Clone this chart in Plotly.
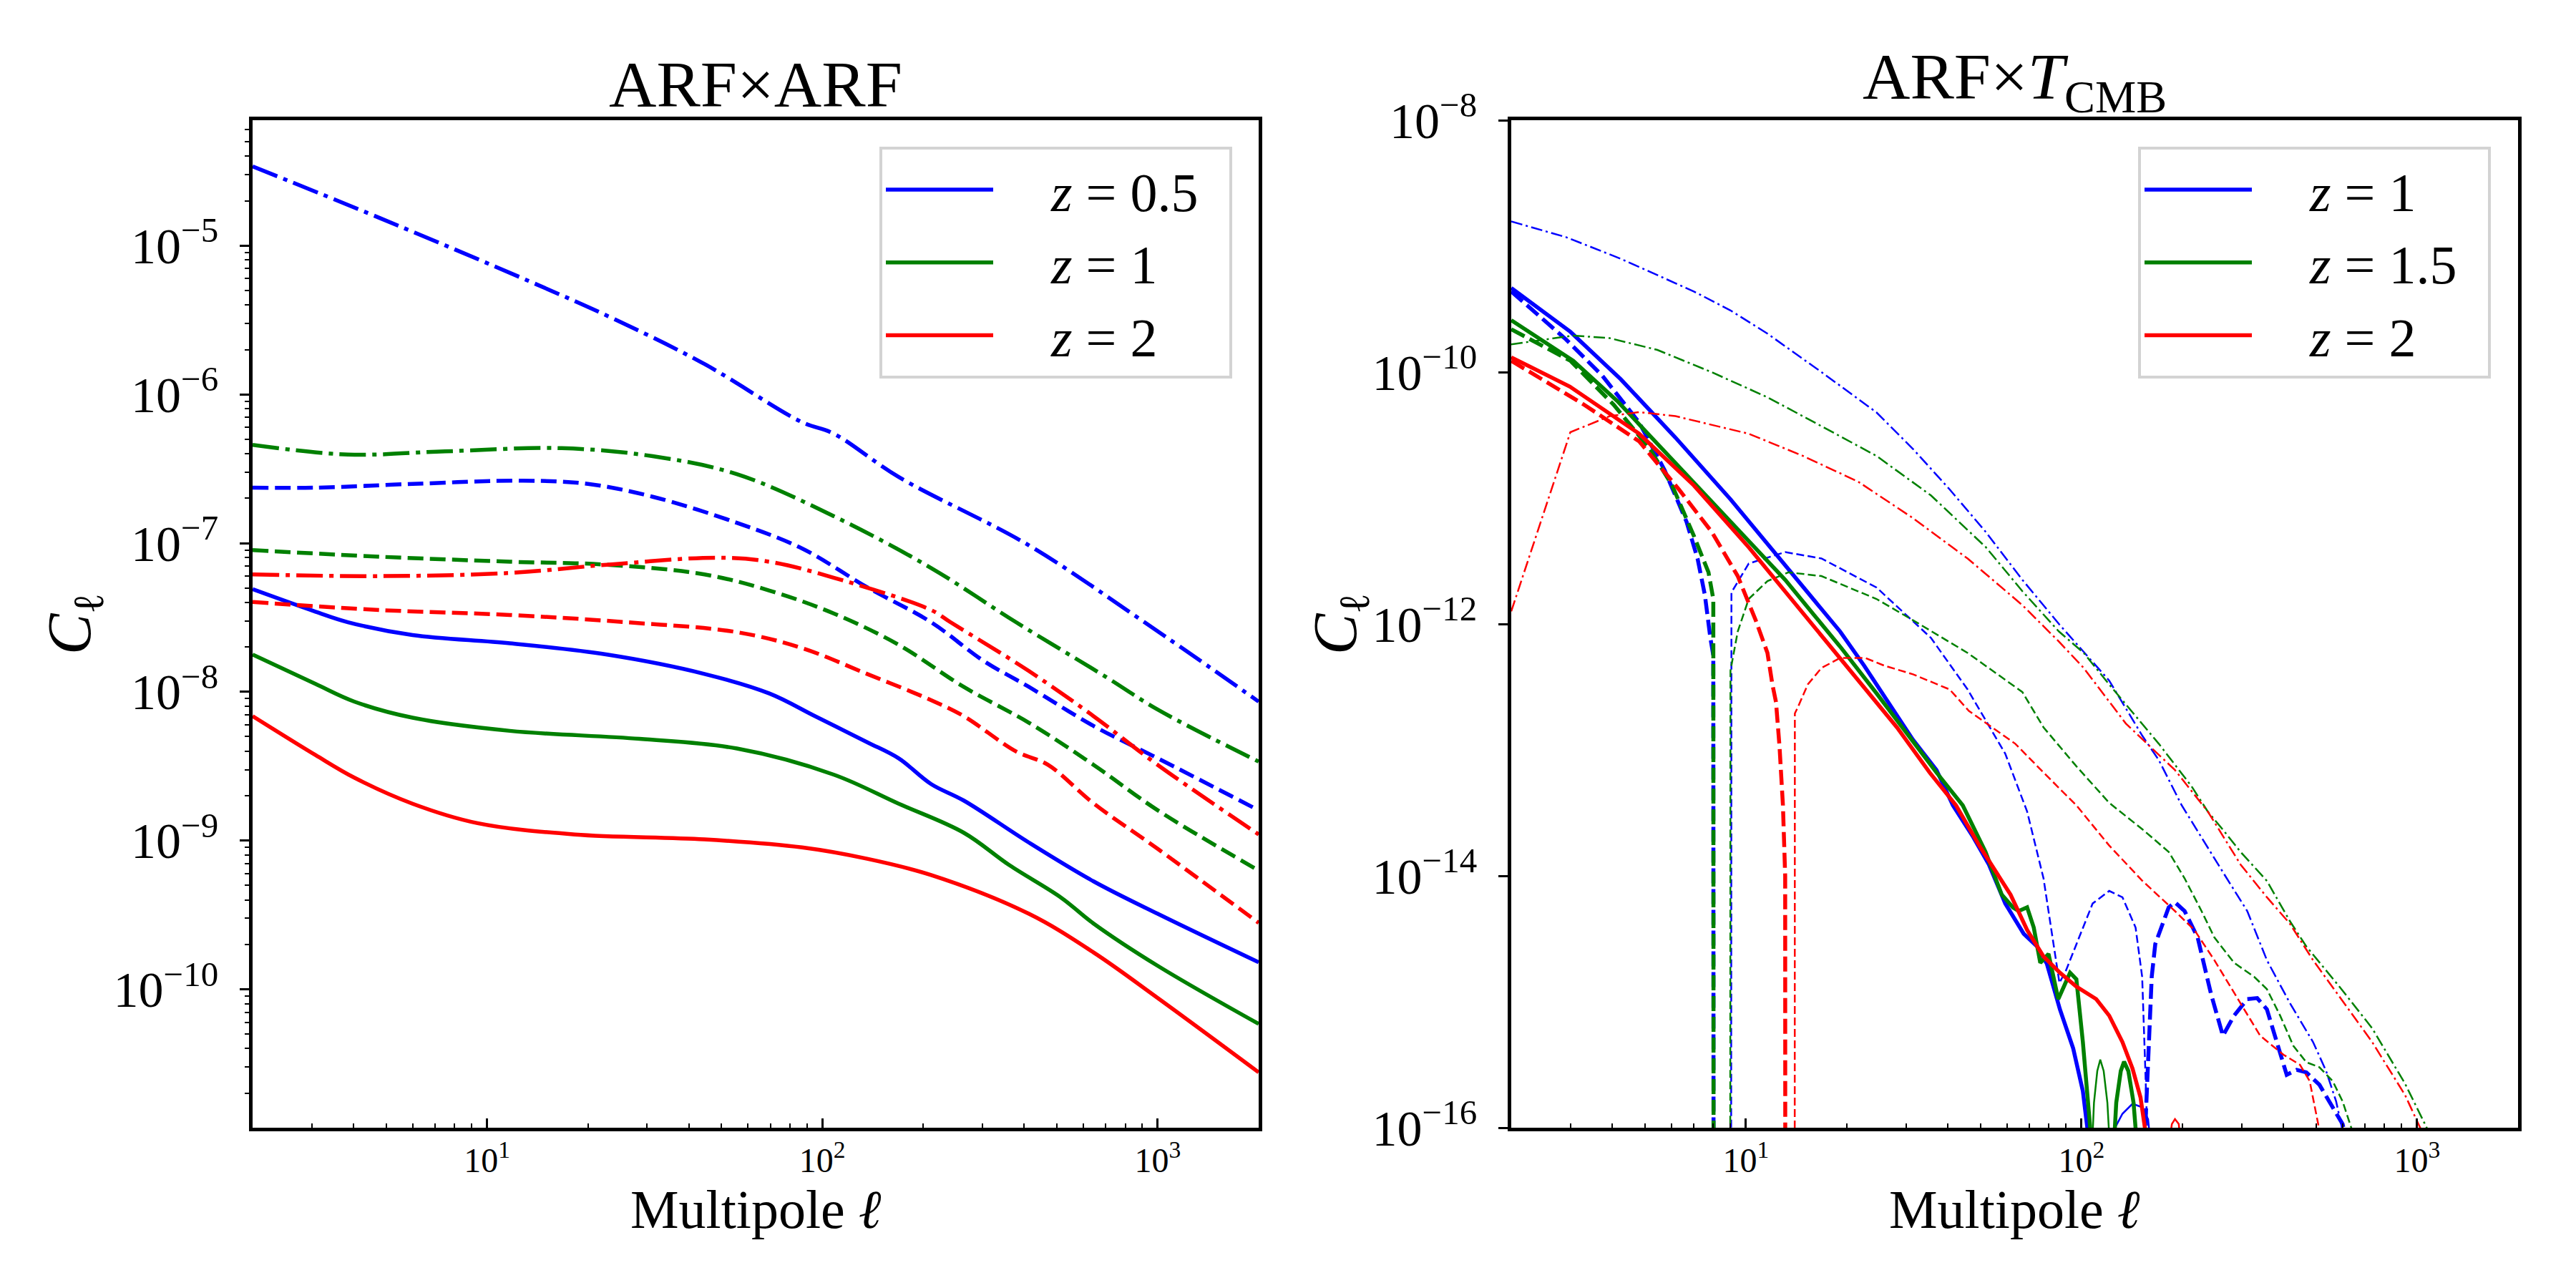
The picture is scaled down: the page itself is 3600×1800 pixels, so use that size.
import numpy as np
import plotly.graph_objects as go

FONT = "Liberation Serif"
BLUE, GREEN, RED = "#0000ff", "#008000", "#ff0000"

# ---------------- left panel: ARF x ARF ----------------
# z = 0.5
l_z05_solid = [2, 3.08, 3.85, 6.0, 11.7, 22.8, 44.5, 69.5, 95, 136, 169, 211, 264, 413, 644, 1000, 2000]
c_z05_solid = [4.9e-8, 3.46e-8, 2.94e-8, 2.41e-8, 2.12e-8, 1.78e-8, 1.32e-8, 9.75e-9, 6.87e-9, 4.59e-9,
               3.57e-9, 2.4e-9, 1.86e-9, 9.7e-10, 5.32e-10, 3.22e-10, 1.52e-10]
l_z05_dash = [2, 3.08, 6.0, 12.8, 20, 31.2, 55.6, 87, 136, 211, 302, 413, 644, 1000, 2000]
c_z05_dash = [2.36e-7, 2.36e-7, 2.5e-7, 2.63e-7, 2.5e-7, 2.05e-7, 1.37e-7, 9.2e-8, 5.05e-8, 2.94e-8,
              1.62e-8, 1.08e-8, 5.9e-9, 3.58e-9, 1.6e-9]
l_z05_dashdot = [2, 4.8, 13.4, 23.8, 44.5, 87, 108, 169, 413, 913, 2000]
c_z05_dashdot = [3.41e-5, 1.53e-5, 5.75e-6, 3.23e-6, 1.6e-6, 6.5e-7, 5.45e-7, 2.78e-7, 9.66e-8, 2.94e-8, 8.6e-9]

# z = 1
l_z1_solid = [2, 3.08, 4.02, 6.0, 11.7, 28.5, 55.6, 108, 169, 264, 361, 515, 644, 1000, 2000]
c_z1_solid = [1.78e-8, 1.13e-8, 8.6e-9, 6.7e-9, 5.47e-9, 4.83e-9, 4.16e-9, 2.78e-9, 1.77e-9, 1.13e-9,
              6.84e-10, 4.14e-10, 2.77e-10, 1.44e-10, 5.86e-11]
l_z1_dash = [2, 4.8, 11.7, 22.8, 44.5, 69.5, 108, 169, 264, 413, 644, 1000, 2000]
c_z1_dash = [8.97e-8, 8.1e-8, 7.5e-8, 7.16e-8, 6.16e-8, 4.8e-8, 3.37e-8, 2.07e-8, 1.08e-8, 6.2e-9,
             3.23e-9, 1.6e-9, 6.3e-10]
l_z1_dashdot = [2, 3.85, 7.5, 16.7, 31.2, 55.6, 108, 211, 378, 705, 1000, 2000]
c_z1_dashdot = [4.57e-7, 3.94e-7, 4.14e-7, 4.35e-7, 3.84e-7, 2.91e-7, 1.52e-7, 6.8e-8, 2.94e-8,
                1.25e-8, 7.6e-9, 3.4e-9]

# z = 2
l_z2_solid = [2, 3.08, 4.02, 6.0, 9.37, 18.3, 44.5, 87, 136, 211, 413, 644, 1000, 2000]
c_z2_solid = [6.87e-9, 3.76e-9, 2.65e-9, 1.77e-9, 1.31e-9, 1.1e-9, 1.02e-9, 9.0e-10, 7.55e-10, 5.87e-10,
              3.22e-10, 1.77e-10, 8.75e-11, 2.77e-11]
l_z2_dash = [2, 4.8, 11.7, 26, 55.6, 87, 136, 211, 264, 378, 471, 644, 1000, 2000]
c_z2_dash = [4.02e-8, 3.55e-8, 3.29e-8, 2.94e-8, 2.52e-8, 1.97e-8, 1.32e-8, 8.8e-9, 6.87e-9, 3.98e-9,
             3.23e-9, 1.78e-9, 8.8e-10, 2.8e-10]
l_z2_dashdot = [2, 4.8, 11.7, 22.8, 48.7, 69.5, 108, 211, 241, 413, 644, 1000, 2000]
c_z2_dashdot = [6.16e-8, 6.0e-8, 6.3e-8, 7.16e-8, 7.98e-8, 7.5e-8, 5.86e-8, 3.55e-8, 2.94e-8, 1.38e-8,
                6.86e-9, 3.23e-9, 1.1e-9]

# ---------------- right panel: ARF x T_CMB ----------------
# None marks non-positive values (matplotlib clips them, hence the vertical drops)
# z = 1
t_z1_solid_l = [2, 3, 4.24, 6.17, 9.0, 13.1, 19.1, 22.5, 31.5, 37, 41.4, 47.3, 53, 59.3,
                64.6, 67.3, 73.8, 78.9, 86.3, 94.5, 101, 105, 110]
t_z1_solid_c = [4.65e-10, 2.09e-10, 8.77e-11, 3.02e-11, 9.77e-12, 2.95e-12, 8.71e-13, 4.68e-13, 1.2e-13,
                6.92e-14, 3.63e-14, 2.09e-14, 1.23e-14, 6.03e-15, 4.17e-15,
                3.47e-15, 2.75e-15, 2.0e-15, 8.7e-16, 4.27e-16, 1.95e-16, 7.9e-17, 3e-17]
t_z1_arc_l = [122, 126, 132.5, 142, 152, 158, 163]
t_z1_arc_c = [5e-17, 1.0e-16, 1.29e-16, 1.55e-16, 1.45e-16, 1.17e-16, 5e-17]
t_z1_dash_l = [2, 2.91, 3.74, 4.81, 5.73, 6.66, 7.18, 7.55, 7.84, 8, 9, 150, 155, 156.5, 159, 162, 166,
               182, 190, 203, 222, 243, 264, 285, 312, 334, 357, 382, 409, 438, 468, 512, 561, 600, 640]
t_z1_dash_c = [4.37e-10, 1.82e-10, 9.33e-11, 3.98e-11, 1.66e-11, 6.46e-12, 3.31e-12, 1.7e-12, 7.76e-13,
               5.62e-13, None, None, 1.0e-16, 2.0e-16, 6.46e-16, 1.58e-15, 2.88e-15, 5.62e-15, 6.17e-15,
               5.25e-15, 3.24e-15, 1.17e-15, 5.37e-16, 7.76e-16, 1.05e-15, 1.07e-15, 8.71e-16, 4.79e-16,
               2.63e-16, 2.88e-16, 2.75e-16, 2.19e-16, 1.45e-16, 1.07e-16, 5e-17]
t_z1_thin_dash_l = [8, 9.06, 10.2, 13.1, 16.8, 24.5, 35.6, 45.8, 59.3, 68.9, 77.1, 82, 86, 90, 96.6, 108,
                    121, 132.5, 145, 151.7, 155.2, 157, 160]
t_z1_thin_dash_c = [None, 1.78e-12, 3.02e-12, 3.72e-12, 3.31e-12, 1.95e-12, 7.76e-13, 3.02e-13, 9.33e-14,
                    3.24e-14, 9.55e-15, 3.16e-15, 1.41e-15, 1.78e-15, 2.88e-15, 6.03e-15,
                    7.59e-15, 6.76e-15, 3.89e-15, 1.58e-15, 2.63e-16, 9.5e-17, None]
t_z1_dashdot_l = [2, 2.91, 4.24, 7.0, 9.0, 11.6, 16.8, 24.5, 31.5, 40.5, 51.9, 66.7, 85.7, 101.6, 121,
                  152, 170, 199, 228, 267, 312, 357, 418, 490, 536, 574, 600, 640]
t_z1_dashdot_c = [1.57e-9, 1.18e-9, 7.94e-10, 4.37e-10, 3.09e-10, 2.02e-10, 1.0e-10, 4.79e-11, 2.45e-11,
                  1.17e-11, 5.37e-12, 2.24e-12, 1.0e-12, 6.03e-13, 3.55e-13, 1.29e-13, 8.32e-14, 3.63e-14,
                  2.0e-14, 1.02e-14, 5.25e-15, 2.14e-15, 9.77e-16, 4.79e-16, 2.82e-16, 1.62e-16, 9.5e-17,
                  4e-17]

# z = 1.5
t_z15_solid_l = [2, 3.06, 4.14, 6.17, 9.0, 13.1, 16, 19.1, 24.5, 29.5, 37, 44.3, 51.8, 57.9, 62.5, 65,
                 68.9, 72.1, 75.4, 79.8, 85.3, 92.5, 96.6, 101, 104.5, 107, 124, 127, 131, 134, 138, 143, 148]
t_z15_solid_c = [2.58e-10, 1.23e-10, 5.89e-11, 1.91e-11, 6.46e-12, 2.24e-12, 1.17e-12, 6.61e-13, 2.82e-13,
                 1.45e-13, 6.61e-14, 3.63e-14, 1.55e-14, 7.08e-15, 5.62e-15, 5.25e-15, 5.62e-15,
                 3.89e-15, 2.04e-15, 2.4e-15, 1.05e-15, 1.7e-15, 1.51e-15, 4.79e-16, 1.45e-16, 7.9e-17,
                 5e-17, 1.58e-16, 2.82e-16, 3.35e-16, 2.82e-16, 1.58e-16, 5e-17]
t_z15_arc_l = [107, 109, 111.5, 113.8, 116.5, 119.5, 122.4]
t_z15_arc_c = [5e-17, 1.58e-16, 2.82e-16, 3.47e-16, 2.82e-16, 1.58e-16, 5e-17]
t_z15_dash_l = [2, 3, 4.04, 5.18, 6.03, 7.0, 7.74, 8, 9]
t_z15_dash_c = [2.19e-10, 1.23e-10, 5.5e-11, 2.45e-11, 1.26e-11, 5.01e-12, 2.57e-12, 1.58e-12, None]
t_z15_thin_dash_l = [8, 9, 9.46, 10.2, 11.6, 13.4, 16.8, 24.5, 31.5, 45.8, 66.7, 77.1, 96.6, 121, 152,
                     182, 203, 228, 249, 285, 327, 357, 391, 428, 468, 512, 561, 600, 641, 680]
t_z15_thin_dash_c = [None, 4.27e-13, 8.71e-13, 1.58e-12, 2.19e-12, 2.57e-12, 2.4e-12, 1.58e-12, 1.07e-12,
                     5.89e-13, 2.88e-13, 1.51e-13, 7.41e-14, 3.8e-14, 2.34e-14, 1.55e-14, 9.55e-15,
                     5.25e-15, 3.24e-15, 2.04e-15, 1.58e-15, 1.26e-15, 7.76e-16, 4.47e-16, 3.31e-16,
                     3.02e-16, 2.34e-16, 1.62e-16, 9.5e-17, 5e-17]
t_z15_dashdot_l = [2, 3.06, 3.93, 5.45, 7.9, 11.6, 16.8, 24.5, 35.6, 51.9, 66.7, 85.7, 101.6, 121, 170,
                   213, 238, 267, 298, 357, 418, 468, 587, 735, 921, 1079, 1150]
t_z15_dashdot_c = [1.66e-10, 1.95e-10, 1.86e-10, 1.5e-10, 1.0e-10, 6.31e-11, 3.72e-11, 2.16e-11, 1.05e-11,
                   4.07e-12, 1.82e-12, 8.71e-13, 5.89e-13, 3.31e-13, 1.12e-13, 5.13e-14, 3.24e-14, 2.24e-14,
                   1.55e-14, 9.12e-15, 4.37e-15, 2.75e-15, 1.32e-15, 6.17e-16, 2.24e-16, 9.5e-17, 5e-17]

# z = 2
t_z2_solid_l = [2, 2.99, 4.81, 7.0, 10.2, 14.8, 22.1, 28.2, 35.3, 42.3, 49.6, 55.5, 61.5,
                68.9, 77.1, 86.3, 96.6, 110.7, 121, 132.5, 142, 150, 155, 160]
t_z2_solid_c = [1.31e-10, 7.67e-11, 3.24e-11, 1.26e-11, 4.07e-12, 1.23e-12, 3.39e-13, 1.51e-13, 6.61e-14,
                3.63e-14, 1.74e-14, 1.1e-14, 7.08e-15, 3.72e-15, 2.29e-15, 1.7e-15, 1.32e-15, 1.05e-15,
                7.76e-16, 4.79e-16, 2.95e-16, 1.74e-16, 9.5e-17, 4e-17]
t_z2_arc_l = [181, 186, 190, 195, 199]
t_z2_arc_c = [6.3e-17, 1.07e-16, 1.17e-16, 1.07e-16, 6.3e-17]
t_z2_dash_l = [2, 3.3, 4.81, 6.32, 7.92, 9.46, 10.7, 11.6, 12.0, 12.3, 12.6, 12.9, 13.1, 14]
t_z2_dash_c = [1.23e-10, 5.5e-11, 2.82e-11, 1.17e-11, 5.37e-12, 2.4e-12, 1.07e-12, 5.89e-13, 3.31e-13,
               2.4e-13, 1.07e-13, 3.63e-14, 1.0e-14, None]
t_z2_thin_dash_l = [13, 14, 14.3, 15.3, 16.8, 19.1, 22.7, 25.8, 31.5, 40.5, 46.2, 55.5, 63.5, 77.1,
                    96.6, 121, 152, 190, 217, 249, 298, 341, 400, 448, 479, 512, 530]
t_z2_thin_dash_c = [None, 1.95e-13, 2.19e-13, 3.31e-13, 4.47e-13, 5.37e-13, 5.37e-13, 4.68e-13, 3.98e-13,
                    3.02e-13, 2.04e-13, 1.45e-13, 1.12e-13, 6.61e-14, 3.63e-14, 1.74e-14,
                    9.12e-15, 5.25e-15, 3.72e-15, 2.14e-15, 9.77e-16, 5.37e-16, 3.8e-16, 3.16e-16,
                    2.34e-16, 9.5e-17, 4e-17]
t_z2_dashdot_l = [2, 3, 3.93, 4.81, 6.17, 10.2, 14.8, 21.6, 31.5, 45.8, 66.7, 85.7, 101.6, 135.6, 190,
                  238, 298, 357, 418, 490, 587, 735, 921, 1031, 1100]
t_z2_dashdot_c = [1.26e-12, 3.33e-11, 4.47e-11, 4.81e-11, 4.47e-11, 3.24e-11, 2.16e-11, 1.35e-11, 6.92e-12,
                  3.31e-12, 1.41e-12, 7.24e-13, 4.47e-13, 1.62e-13, 6.92e-14, 3.24e-14, 1.23e-14,
                  6.76e-15, 4.17e-15, 2.14e-15, 1.1e-15, 4.79e-16, 1.82e-16, 9.5e-17, 5e-17]

x_ticks = [10, 100, 1000]
x_ticktext = ["10<sup>1</sup>", "10<sup>2</sup>", "10<sup>3</sup>"]
left_yticks = [1e-10, 1e-9, 1e-8, 1e-7, 1e-6, 1e-5]
left_yticktext = ["10<sup>−10</sup>", "10<sup>−9</sup>", "10<sup>−8</sup>", "10<sup>−7</sup>",
                  "10<sup>−6</sup>", "10<sup>−5</sup>"]
right_yticks = [1e-16, 1e-14, 1e-12, 1e-10, 1e-8]
right_yticktext = ["10<sup>−16</sup>", "10<sup>−14</sup>", "10<sup>−12</sup>", "10<sup>−10</sup>",
                   "10<sup>−8</sup>"]

FLOOR = 1e-300  # stand-in for clipped (non-positive) values on the log axis


def clipped(vals):
    return [FLOOR if v is None else v for v in vals]


# page pixels -> paper fractions (the page body adds an 8px offset)
W, H, OFF = 3600, 1800, 8


def fx(px):
    return (px - OFF) / W


def fy(px):
    return 1 - (px - OFF) / H


# dash patterns in px, roughly matplotlib's '--' and '-.' at these line widths
DASH_L, DASHDOT_L = "22px,9px", "37px,9px,6px,9px"
DASH_THICK = "21px,8px"
DASH_THIN, DASHDOT_THIN = "11px,5px", "16px,5px,3px,5px"

fig = go.Figure()


def add(ell, cl, color, width, dash="solid", panel=1, name=None, shape="linear"):
    xa, ya = ("x", "y") if panel == 1 else ("x2", "y2")
    legend = "legend" if panel == 1 else "legend2"
    fig.add_trace(go.Scatter(
        x=ell, y=clipped(cl), mode="lines", xaxis=xa, yaxis=ya,
        line=dict(color=color, width=width, dash=dash, shape=shape),
        name=name or "", showlegend=name is not None, legend=legend, hoverinfo="skip"))


def zlabel(z):
    return "\u2003<i>z</i> = " + z + "\u2002"


# left panel
LW = 5.5
add(l_z05_solid, c_z05_solid, BLUE, LW, name=zlabel("0.5"), shape="spline")
add(l_z05_dash, c_z05_dash, BLUE, LW, DASH_L, shape="spline")
add(l_z05_dashdot, c_z05_dashdot, BLUE, LW, DASHDOT_L, shape="spline")
add(l_z1_solid, c_z1_solid, GREEN, LW, name=zlabel("1"), shape="spline")
add(l_z1_dash, c_z1_dash, GREEN, LW, DASH_L, shape="spline")
add(l_z1_dashdot, c_z1_dashdot, GREEN, LW, DASHDOT_L, shape="spline")
add(l_z2_solid, c_z2_solid, RED, LW, name=zlabel("2"), shape="spline")
add(l_z2_dash, c_z2_dash, RED, LW, DASH_L, shape="spline")
add(l_z2_dashdot, c_z2_dashdot, RED, LW, DASHDOT_L, shape="spline")

# right panel
TK, TN = 5.5, 2.5
for color, name, sl, sc, al, ac, dl, dc, tl, tc, ddl, ddc in [
    (BLUE, zlabel("1"), t_z1_solid_l, t_z1_solid_c, t_z1_arc_l, t_z1_arc_c, t_z1_dash_l, t_z1_dash_c,
     t_z1_thin_dash_l, t_z1_thin_dash_c, t_z1_dashdot_l, t_z1_dashdot_c),
    (GREEN, zlabel("1.5"), t_z15_solid_l, t_z15_solid_c, t_z15_arc_l, t_z15_arc_c, t_z15_dash_l,
     t_z15_dash_c, t_z15_thin_dash_l, t_z15_thin_dash_c, t_z15_dashdot_l, t_z15_dashdot_c),
    (RED, zlabel("2"), t_z2_solid_l, t_z2_solid_c, t_z2_arc_l, t_z2_arc_c, t_z2_dash_l, t_z2_dash_c,
     t_z2_thin_dash_l, t_z2_thin_dash_c, t_z2_dashdot_l, t_z2_dashdot_c),
]:
    add(sl, sc, color, TK, panel=2, name=name)
    add(al, ac, color, TN, panel=2)
    add(dl, dc, color, TK, DASH_THICK, panel=2)
    add(tl, tc, color, TN, DASH_THIN, panel=2)
    add(ddl, ddc, color, TN, DASHDOT_THIN, panel=2)

minor_x = [m * 10 ** k for k in range(0, 4) for m in range(2, 10) if 2 <= m * 10 ** k <= 2000]
minor_y = [m * 10.0 ** k for k in range(-11, -4) for m in range(2, 10)]

tick_font_x = dict(family=FONT, size=48, color="black")
tick_font_y = dict(family=FONT, size=70, color="black")


def xaxis(domain, anchor):
    return dict(type="log", domain=domain, anchor=anchor, range=[np.log10(2), np.log10(2000)],
                automargin=False, showline=True, linewidth=4.5, linecolor="black", mirror=True,
                ticks="inside", ticklen=13, tickwidth=2.5, tickcolor="black",
                tickvals=x_ticks, ticktext=x_ticktext, tickfont=tick_font_x,
                minor=dict(ticks="inside", ticklen=6.5, tickwidth=2, tickcolor="black", tickvals=minor_x),
                showgrid=False, zeroline=False)


def yaxis(domain, anchor, rng, tv, tt, minor):
    d = dict(type="log", domain=domain, anchor=anchor, range=rng, automargin=False,
             showline=True, linewidth=4.5, linecolor="black", mirror=True,
             ticks="outside", ticklen=13, tickwidth=2.5, tickcolor="black",
             tickvals=tv, ticktext=tt, tickfont=tick_font_y, ticklabelstandoff=16,
             showgrid=False, zeroline=False)
    if minor:
        d["minor"] = dict(ticks="outside", ticklen=6.5, tickwidth=2, tickcolor="black", tickvals=minor_y)
    return d


YDOM = [fy(1576), fy(168)]
legend_style = dict(yanchor="top", y=fy(205), xanchor="right", bgcolor="white", bordercolor="#d3d3d3",
                    borderwidth=4, font=dict(family=FONT, size=76, color="black"),
                    itemwidth=150, tracegroupgap=0)


def label(text, x, y, size, angle=0):
    return dict(text=text, x=x, y=y, xref="paper", yref="paper", xanchor="center", yanchor="middle",
                showarrow=False, textangle=angle, font=dict(family=FONT, size=size, color="black"))


fig.update_layout(
    width=W, height=H, margin=dict(l=0, r=0, t=0, b=0, autoexpand=False),
    paper_bgcolor="white", plot_bgcolor="white",
    xaxis=xaxis([fx(353), fx(1759)], "y"),
    yaxis=yaxis(YDOM, "x", [-10.93, -4.157], left_yticks, left_yticktext, True),
    xaxis2=xaxis([fx(2112), fx(3519)], "y2"),
    yaxis2=yaxis(YDOM, "x2", [-16, -8], right_yticks, right_yticktext, False),
    legend=dict(x=fx(1722), **legend_style),
    legend2=dict(x=fx(3481), **legend_style),
    annotations=[
        label("ARF×ARF", fx(1056), fy(118), 92),
        label("ARF×<i>T</i><sub>CMB</sub>", fx(2815), fy(114), 92),
        label("Multipole <i>ℓ</i>", fx(1056), fy(1690), 76),
        label("Multipole <i>ℓ</i>", fx(2815), fy(1690), 76),
        label("<i>C</i><sub>ℓ</sub>", fx(103), fy(872), 86, -90),
        label("<i>C</i><sub>ℓ</sub>", fx(1872), fy(872), 86, -90),
    ],
)

fig.write_html("out.html")
